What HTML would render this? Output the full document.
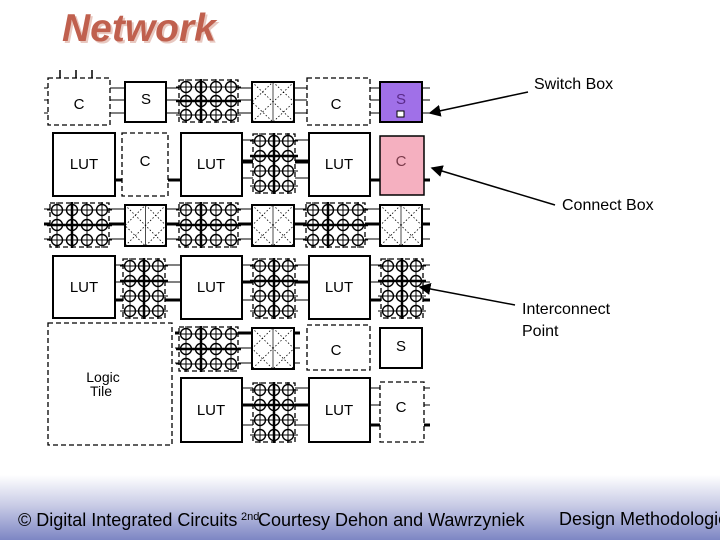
<!DOCTYPE html>
<html><head><meta charset="utf-8"><style>
html,body{margin:0;padding:0;width:720px;height:540px;overflow:hidden;background:#fff;font-family:"Liberation Sans",sans-serif}
#bg{position:absolute;left:0;top:0;width:720px;height:540px;background:linear-gradient(to bottom,#fff 0,#fff 475px,#c9cce6 505px,#7d86c4 540px)}
svg{position:absolute;left:0;top:0}
</style></head><body>
<div id="bg"></div>
<svg id="s" width="720" height="540" viewBox="0 0 720 540" font-family="Liberation Sans, sans-serif">
<defs>
<marker id="ar" markerWidth="8" markerHeight="8" refX="7" refY="4" orient="auto"><path d="M0,0 L8,4 L0,8 z" fill="#000"/></marker>
</defs>
<text x="62" y="41" font-size="39" font-weight="bold" font-style="italic" fill="#e8c8c0" transform="translate(2,2)">Network</text>
<text x="62" y="41" font-size="39" font-weight="bold" font-style="italic" fill="#c0604e">Network</text>
<g id="g" stroke="#000" fill="none"></g>
<g font-size="15" fill="#000" text-anchor="middle">
<text x="79" y="109">C</text><text x="146" y="104">S</text><text x="336" y="109">C</text>
<text x="401" y="104" fill="#5a2a8a">S</text>
<text x="84" y="169">LUT</text><text x="145" y="166">C</text><text x="211" y="169">LUT</text><text x="339" y="169">LUT</text><text x="401" y="166" fill="#7a3a4a">C</text>
<text x="84" y="292">LUT</text><text x="211" y="292">LUT</text><text x="339" y="292">LUT</text>
<text x="336" y="355">C</text><text x="401" y="351">S</text>
<text x="211" y="415">LUT</text><text x="339" y="415">LUT</text><text x="401" y="412">C</text>
<text x="103" y="382" font-size="14">Logic</text><text x="101" y="396" font-size="14">Tile</text>
</g>
<g font-size="16" fill="#000">
<text x="534" y="89">Switch Box</text>
<text x="562" y="210">Connect Box</text>
<text x="522" y="314">Interconnect</text>
<text x="522" y="336">Point</text>
</g>
<g stroke="#000" stroke-width="1.5" marker-end="url(#ar)">
<line x1="528" y1="92" x2="430" y2="113"/>
<line x1="555" y1="205" x2="432" y2="168"/>
<line x1="515" y1="305" x2="420" y2="287"/>
</g>
<g font-size="18" fill="#000">
<text x="18" y="526">© Digital Integrated Circuits</text>
<text x="241" y="520" font-size="11">2nd</text>
<text x="258" y="526">Courtesy Dehon and Wawrzyniek</text>
<text x="559" y="525">Design Methodologies</text>
</g>
</svg>
<script>
const g=document.getElementById('g');const NS='http://www.w3.org/2000/svg';
function el(t,a){const e=document.createElementNS(NS,t);for(const k in a)e.setAttribute(k,a[k]);g.appendChild(e);return e;}
function rect(x,y,w,h,o){return el('rect',Object.assign({x,y,width:w,height:h,'stroke-width':2,fill:'#fff'},o||{}));}
function dash(x,y,w,h){rect(x,y,w,h,{'stroke-dasharray':'5,3','stroke-width':1.3});}
function line(x1,y1,x2,y2,w){el('line',{x1,y1,x2,y2,'stroke-width':w||1.2});}
[88,100,113].forEach(y=>line(44,y,430,y,1));
[209,224,239].forEach(y=>line(44,y,430,y,1));
line(44,224,430,224,3);
[333,348,363].forEach(y=>line(175,y,300,y,1));
line(175,333,300,333,3);
[140,160,178].forEach(y=>line(240,y,310,y,1));line(240,162,310,162,3);line(115,180,180,180,3);line(370,180,430,180,3);
[265,282,300].forEach(y=>line(115,y,430,y,1));line(115,300,180,300,3);line(240,282,310,282,3);line(370,300,430,300,3);
[388,405,425].forEach(y=>line(240,y,430,y,1));line(240,405,310,405,3);line(370,425,430,425,3);
[60,76,92].forEach(x=>{line(x,70,x,80,1.5)});
function ip(x0,y0,cols,rows,dx,dy){
  dash(x0-7,y0-7,(cols-1)*dx+14,(rows-1)*dy+14);
  for(let i=0;i<cols;i++)line(x0+i*dx,y0-8,x0+i*dx,y0+(rows-1)*dy+8,i==1?2.5:1);
  for(let j=0;j<rows;j++)line(x0-10,y0+j*dy,x0+(cols-1)*dx+10,y0+j*dy,j==1?2.5:1);
  for(let i=0;i<cols;i++)for(let j=0;j<rows;j++)el('circle',{cx:x0+i*dx,cy:y0+j*dy,r:5.5,'stroke-width':1.4,fill:'none'});
}
function sw(x,y,w,h){rect(x,y,w,h,{fill:'#fff'});el('path',{d:`M${x} ${y}L${x+w} ${y+h}M${x+w} ${y}L${x} ${y+h}M${x+w/2} ${y}L${x+w} ${y+h/2}L${x+w/2} ${y+h}L${x} ${y+h/2}Z`,'stroke-width':0.8,'stroke-dasharray':'1.5,2'});line(x+w/2,y,x+w/2,y+h,0.7);}
dash(48,78,62,47);rect(125,82,41,40);ip(186,87,4,3,15,14);sw(252,82,42,40);dash(307,78,63,47);
rect(380,82,42,40,{fill:'#a070e8'});rect(397,111,7,6,{fill:'#fff','stroke-width':1});
rect(53,133,62,63);dash(122,133,46,63);rect(181,133,61,63);ip(260,141,3,4,14,15);rect(309,133,61,63);
rect(380,136,44,59,{fill:'#f5b0c0','stroke-width':1.5});
ip(57,210,4,3,15,15);sw(125,205,41,41);ip(186,210,4,3,15,15);sw(252,205,42,41);ip(313,210,4,3,15,15);sw(380,205,42,41);
rect(53,256,62,62);ip(130,266,3,4,14,15);rect(181,256,61,63);ip(260,266,3,4,14,15);rect(309,256,61,63);ip(388,266,3,4,14,15);
dash(48,323,124,122);ip(186,334,4,3,15,15);sw(252,328,42,41);dash(307,325,63,45);rect(380,328,42,40);
rect(181,378,61,64);ip(260,390,3,4,14,15);rect(309,378,61,64);dash(380,382,44,60);
</script>
</body></html>
